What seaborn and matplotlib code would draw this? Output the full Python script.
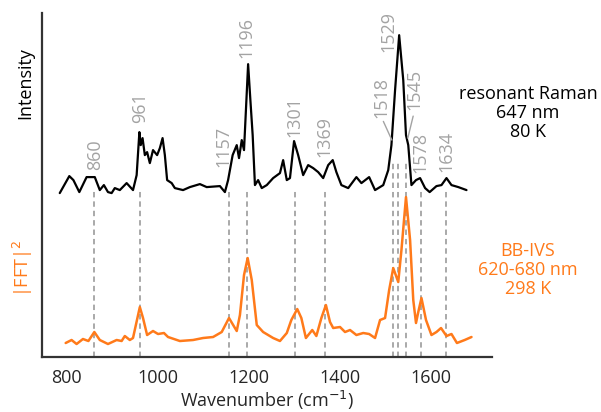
import matplotlib
matplotlib.use("Agg")
import matplotlib.pyplot as plt
import seaborn as sns
import pandas as pd

# ---------------- data ----------------
raman_wn = [785, 806, 815, 828, 844, 862, 873, 882, 891, 899, 906, 917, 932, 946, 954,
            960, 963, 967, 972, 977, 983, 990, 999, 1005, 1011, 1016, 1021, 1031, 1038,
            1056, 1071, 1093, 1108, 1137, 1148, 1155, 1165, 1174, 1179, 1185, 1190, 1199,
            1204, 1209, 1214, 1221, 1229, 1240, 1254, 1269, 1276, 1284, 1291, 1300, 1309,
            1320, 1331, 1342, 1353, 1364, 1375, 1385, 1393, 1404, 1419, 1437, 1448, 1465,
            1478, 1496, 1507, 1514, 1522, 1531, 1540, 1546, 1551, 1558, 1568, 1577, 1588,
            1598, 1613, 1624, 1635, 1646, 1661, 1679]
raman_int = [164, 181, 177, 165, 180, 180, 167, 172, 165, 164, 169, 167, 174, 167, 182,
             225, 212, 219, 202, 205, 194, 207, 202, 209, 219, 202, 177, 174, 169,
             167, 170, 173, 170, 171, 165, 177, 202, 212, 199, 217, 207, 293,
             257, 222, 172, 177, 169, 172, 179, 184, 197, 177, 179, 216, 202,
             182, 192, 189, 185, 179, 192, 197, 185, 172, 169, 180, 174, 180,
             167, 172, 187, 212, 267, 322, 277, 222, 212, 172, 177, 179, 169,
             165, 171, 172, 179, 172, 170, 167]

fft_wn = [798, 811, 822, 836, 848, 861, 873, 891, 910, 921, 928, 939, 946, 961, 968,
          977, 990, 1001, 1014, 1023, 1049, 1078, 1100, 1122, 1141, 1157, 1174, 1181,
          1190, 1198, 1207, 1218, 1232, 1254, 1269, 1284, 1294, 1307, 1316, 1326, 1340,
          1349, 1360, 1370, 1379, 1386, 1401, 1412, 1423, 1437, 1452, 1465, 1478, 1489,
          1500, 1509, 1518, 1529, 1536, 1546, 1555, 1562, 1568, 1573, 1580, 1590, 1602,
          1613, 1623, 1635, 1646, 1658, 1675, 1690]
fft_int = [14, 17, 13, 18, 16, 25, 17, 13, 17, 16, 21, 17, 19, 50, 39,
           22, 26, 23, 24, 20, 16, 17, 19, 20, 25, 39, 26, 42,
           82, 99, 77, 32, 25, 19, 16, 24, 37, 48, 39, 19, 27,
           21, 39, 52, 35, 29, 30, 25, 27, 22, 24, 23, 19, 37,
           39, 67, 89, 75, 107, 160, 117, 57, 34, 45, 59, 37, 22,
           25, 29, 21, 23, 14, 17, 20]

peak_wn = [860, 961, 1157, 1196, 1301, 1369, 1518, 1529, 1545, 1578, 1634]
peak_labels = ["860", "961", "1157", "1196", "1301", "1369", "1518", "1529", "1545", "1578", "1634"]
label_y = [187, 234, 190, 299, 220, 200, 239, 305, 247, 184, 185]
label_x = [862, 961, 1145, 1196, 1300, 1367, 1493, 1508, 1565, 1577, 1635]
line_top = [167, 167, 167, 167, 167, 167, 194, 194, 194, 167, 167]

xticks = [800, 1000, 1200, 1400, 1600]

# ---------------- style ----------------
sns.set_style("white")
plt.rcParams["font.family"] = ["Open Sans", "DejaVu Sans"]

ORANGE = "#FF7A1A"
GRAY = "#A3A3A3"
DARK = "#262626"

fig = plt.figure(figsize=(6.01, 4.12), dpi=100)
ax = fig.add_axes([0.0699, 0.1335, 0.7487, 0.8345])

df_r = pd.DataFrame({"wn": raman_wn, "I": raman_int})
df_f = pd.DataFrame({"wn": fft_wn, "I": fft_int})

# dashed guide lines
for wn, top in zip(peak_wn, line_top):
    ax.plot([wn, wn], [0, top], color=GRAY, lw=1.3, ls=(0, (3.0, 2.2)), zorder=1)

sns.lineplot(data=df_r, x="wn", y="I", ax=ax, color="black", lw=1.6, zorder=3)
sns.lineplot(data=df_f, x="wn", y="I", ax=ax, color=ORANGE, lw=1.8, zorder=3)

# peak labels
for wn, lab, lx, ly in zip(peak_wn, peak_labels, label_x, label_y):
    if lab == "1518":
        ax.annotate(lab, xy=(1515, 217), xytext=(lx, ly), rotation=90, ha="center",
                    va="bottom", color=GRAY, fontsize=13,
                    arrowprops=dict(arrowstyle="-", color=GRAY, lw=1.0,
                                    shrinkA=0, shrinkB=0, relpos=(0.5, 0.0)))
    elif lab == "1545":
        ax.annotate(lab, xy=(1550, 219), xytext=(lx, ly), rotation=90, ha="center",
                    va="bottom", color=GRAY, fontsize=13,
                    arrowprops=dict(arrowstyle="-", color=GRAY, lw=1.0,
                                    shrinkA=2, shrinkB=0, relpos=(0.5, 0.0)))
    else:
        ax.text(lx, ly, lab, rotation=90, ha="center", va="bottom", color=GRAY, fontsize=13)

ax.set_xlim(746, 1735)
ax.set_ylim(0, 344)
ax.set_xticks(xticks)
ax.set_xticklabels([str(t) for t in xticks], fontsize=13, color=DARK)
ax.set_yticks([])
ax.set_xlabel("Wavenumber (cm$^{-1}$)", fontsize=13, color=DARK, labelpad=1)
ax.set_ylabel("")

for s in ["top", "right"]:
    ax.spines[s].set_visible(False)
for s in ["left", "bottom"]:
    ax.spines[s].set_color("#333333")
    ax.spines[s].set_linewidth(1.6)
ax.tick_params(axis="x", direction="inout", length=10, width=1.5, color="#222222", pad=4)

fig.text(25 / 601, 1 - 83 / 412, "Intensity", rotation=90, ha="center", va="center",
         fontsize=13, color="black")
fig.text(23 / 601, 1 - 268 / 412, "|FFT|$^{2}$", rotation=90, ha="center", va="center",
         fontsize=13, color=ORANGE)

fig.text(528 / 601, 1 - 113 / 412, "resonant Raman\n647 nm\n80 K", ha="center", va="center",
         fontsize=13, color="black", linespacing=1.1)
fig.text(528 / 601, 1 - 270 / 412, "BB-IVS\n620-680 nm\n298 K", ha="center", va="center",
         fontsize=13, color=ORANGE, linespacing=1.1)

fig.savefig("out.png", dpi=100)
